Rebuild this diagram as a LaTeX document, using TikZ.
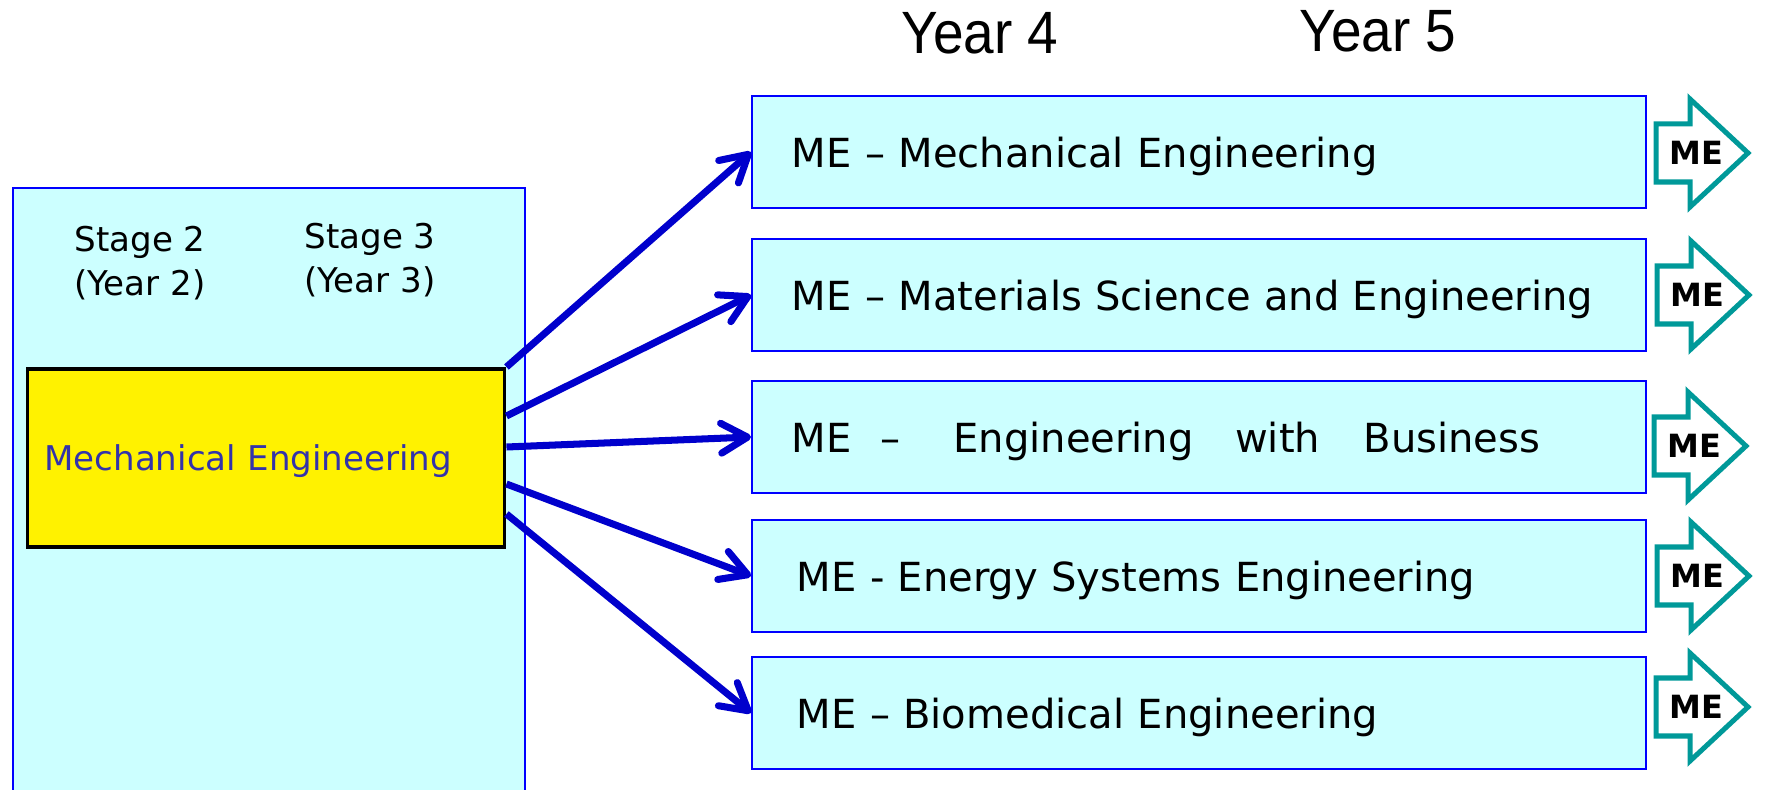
\documentclass[tikz,border=0pt]{standalone}
\usepackage{fontspec}
\setmainfont{DejaVu Sans}
\newfontfamily\yearfont[FakeStretch=0.92]{Liberation Sans}
\usetikzlibrary{arrows.meta}

\definecolor{panelcyan}{RGB}{204,255,255}
\definecolor{arrowblue}{RGB}{0,0,204}
\definecolor{coretext}{RGB}{51,51,170}
\definecolor{meteal}{RGB}{0,153,153}

\tikzset{
  track/.style={draw=blue, line width=1.1pt, fill=panelcyan, anchor=west,
    minimum width=17.88cm, minimum height=2.24cm, inner xsep=0.8cm,
    text width=16.28cm, text height=17.7pt, text depth=0pt, align=left,
    font=\fontsize{22.8}{27}\selectfont},
  route/.style={arrowblue, line width=4pt,
    -{Straight Barb[length=15pt, width=17pt, round]}},
  pics/mearrow/.style={code={
    \draw[meteal, line width=2.85pt, fill=white]
      (-46,-29) -- (-12,-29) -- (-12,-54) -- (46,0) -- (-12,54) -- (-12,29) -- (-46,29) -- cycle;
    \node[font=\bfseries\fontsize{18.2}{20}\selectfont] (-txt) at (-6,0) {ME};
  }}
}

\begin{document}
\begin{tikzpicture}[x=0.02cm, y=-0.02cm]
\useasboundingbox (0,0) rectangle (1765,790);

% stages 2 and 3
\node[draw=blue, line width=1.1pt, fill=panelcyan, anchor=north west,
  minimum width=10.24cm, minimum height=12.18cm] (stages) at (12,187) {};
\node[align=center, font=\fontsize{19.4}{25}\selectfont] (stage2) at (140,263) {Stage 2\\(Year 2)};
\node[align=center, font=\fontsize{19.4}{25}\selectfont] (stage3) at (370,260) {Stage 3\\(Year 3)};
\node[draw=black, line width=2pt, fill=yellow, minimum width=9.55cm, minimum height=3.57cm,
  inner xsep=0.34cm, text width=8.87cm, text height=14pt, text depth=0pt, align=left,
  text=coretext, font=\fontsize{19.4}{23.5}\selectfont] (core) at (266,458) {Mechanical Engineering};

% years 4 and 5
\node[font=\yearfont\fontsize{34}{38}\selectfont] (year4) at (980,33) {Year 4};
\node[font=\yearfont\fontsize{34}{38}\selectfont] (year5) at (1378,31) {Year 5};

\node[track] (mech) at (751,152) {ME -- Mechanical Engineering};
\node[track] (mat) at (751,295) {ME -- Materials Science and Engineering};
\node[track] (bus) at (751,437) {ME\hspace{0.37em} -- \hspace{1em}Engineering \hspace{0.7em}with \hspace{0.75em}Business};
\node[track] (energy) at (751,576) {\hspace{0.12em}ME - Energy Systems Engineering};
\node[track] (bio) at (751,713) {\hspace{0.12em}ME -- Biomedical Engineering};

\pic (me1) at (1702,153) {mearrow};
\pic (me2) at (1703,295) {mearrow};
\pic (me3) at (1700,446) {mearrow};
\pic (me4) at (1703,576) {mearrow};
\pic (me5) at (1702,707) {mearrow};

\draw[route] (core.north east) -- (mech.west);
\draw[route] ([yshift=0.84cm]core.east) -- (mat.west);
\draw[route] ([yshift=0.22cm]core.east) -- (bus.west);
\draw[route] ([yshift=-0.52cm]core.east) -- (energy.west);
\draw[route] ([yshift=-1.12cm]core.east) -- (bio.west);
\end{tikzpicture}
\end{document}
